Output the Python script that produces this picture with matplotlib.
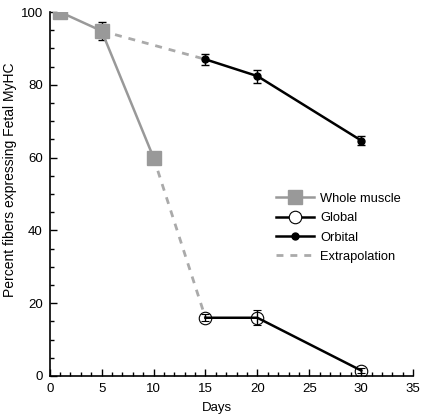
import numpy as np
import matplotlib.pyplot as plt
from matplotlib.lines import Line2D
from matplotlib.ticker import MultipleLocator

plt.rcParams['font.family'] = ['Liberation Sans', 'DejaVu Sans']

# Data
whole_days = [1, 5, 10]
whole_pct = [100, 94.8, 60]
whole_err = [0, 2.5, 0]

global_days = [15, 20, 30]
global_pct = [16, 16, 1.5]
global_err = [1.0, 2.0, 0.6]

orbital_days = [15, 20, 30]
orbital_pct = [87, 82.4, 64.7]
orbital_err = [1.5, 1.8, 1.2]

# extrapolation segments from whole muscle to global / orbital
extrap_upper_days = [5, 15]
extrap_upper_pct = [94.8, 87]
extrap_lower_days = [10, 15]
extrap_lower_pct = [60, 16]

fig = plt.figure(figsize=(4.25, 4.15), dpi=100)
ax = fig.add_axes([0.117, 0.094, 0.855, 0.877])

dash_col = '#aaaaaa'
dash = (0, (2.5, 2.5))
ax.plot(extrap_upper_days, extrap_upper_pct, ls=dash, color=dash_col, lw=2, zorder=1)
ax.plot(extrap_lower_days, extrap_lower_pct, ls=dash, color=dash_col, lw=2, zorder=1)

ax.errorbar(whole_days, whole_pct, yerr=whole_err, color='#999999', lw=1.8,
            marker='s', ms=10, mfc='#999999', mec='#999999',
            ecolor='black', elinewidth=1, capsize=3, zorder=3)
ax.errorbar(global_days, global_pct, yerr=global_err, color='black', lw=1.8,
            marker='o', ms=9, mfc='none', mec='black', mew=0.8,
            ecolor='black', elinewidth=1, capsize=3, zorder=3)
ax.errorbar(orbital_days, orbital_pct, yerr=orbital_err, color='black', lw=1.8,
            marker='o', ms=5, mfc='black', mec='black',
            ecolor='black', elinewidth=1, capsize=3, zorder=3)

handles = [
    Line2D([], [], color='#999999', lw=1.8, marker='s', ms=10, mfc='#999999', mec='#999999'),
    Line2D([], [], color='black', lw=1.8, marker='o', ms=9, mfc='white', mec='black', mew=0.8),
    Line2D([], [], color='black', lw=1.8, marker='o', ms=5, mfc='black', mec='black'),
    Line2D([], [], color=dash_col, lw=2, ls=dash),
]
labels = ['Whole muscle', 'Global', 'Orbital', 'Extrapolation']
ax.legend(handles, labels, loc='upper left', bbox_to_anchor=(0.624, 0.503),
          frameon=False, fontsize=9.3, handlelength=2.9, handletextpad=0.5,
          labelspacing=0.56, borderpad=0, borderaxespad=0)

ax.set_xlim(0, 35)
ax.set_ylim(0, 100)
ax.xaxis.set_major_locator(MultipleLocator(5))
ax.xaxis.set_minor_locator(MultipleLocator(1))
ax.yaxis.set_major_locator(MultipleLocator(20))
ax.yaxis.set_minor_locator(MultipleLocator(5))
ax.tick_params(which='both', direction='in', labelsize=9.5, width=1)
ax.tick_params(which='major', length=5, pad=5)
ax.tick_params(which='minor', length=3)
for s in ['top', 'right']:
    ax.spines[s].set_visible(False)
for s in ['left', 'bottom']:
    ax.spines[s].set_linewidth(1.2)

ax.set_xlabel('Days', fontsize=9.5, labelpad=4)
ax.xaxis.set_label_coords(0.46, -0.072)
ax.set_ylabel('Percent fibers expressing Fetal MyHC', fontsize=10)
ax.yaxis.set_label_coords(-0.09, 0.538)

fig.savefig('out.png', dpi=100)
